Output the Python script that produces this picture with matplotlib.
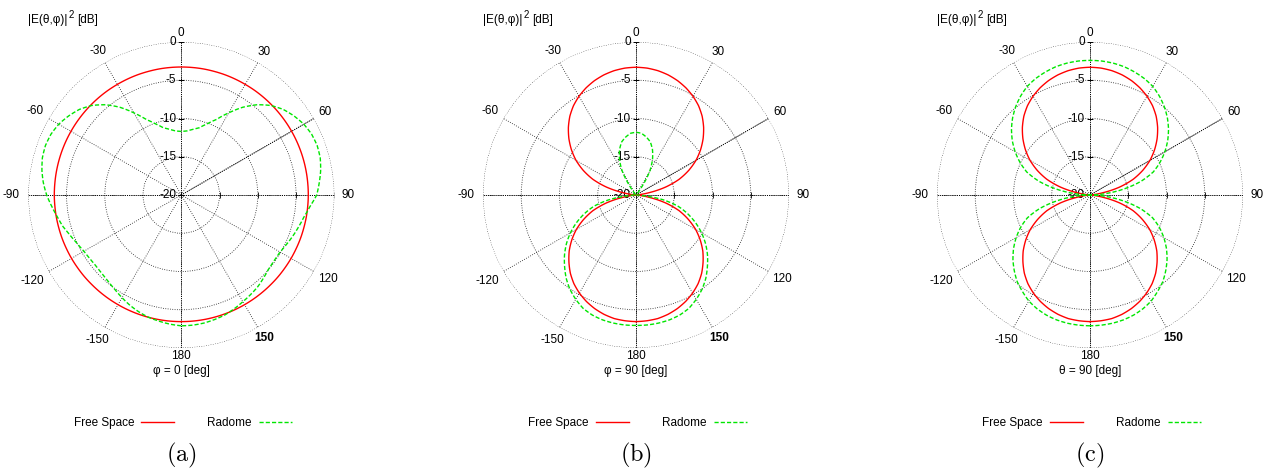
import numpy as np
import matplotlib
matplotlib.use('Agg')
import matplotlib.pyplot as plt
from matplotlib import transforms

plt.rcParams['font.family'] = ['Liberation Sans', 'DejaVu Sans']

# ---------------- data (dB, every 5 deg) ----------------
theta_deg = list(range(-180, 181, 5))

free_space_a = [
    -3.45, -3.45, -3.45, -3.45, -3.45, -3.45, -3.45, -3.45, -3.45, -3.45,
    -3.44, -3.44, -3.43, -3.43, -3.42, -3.42, -3.41, -3.41,
    -3.40, -3.40, -3.39, -3.38, -3.37, -3.36, -3.35, -3.34, -3.33, -3.32,
    -3.31, -3.30, -3.30, -3.29, -3.28, -3.28, -3.27, -3.27,
    -3.27,
    -3.27, -3.27, -3.28, -3.28, -3.29, -3.30, -3.30, -3.31, -3.32, -3.33,
    -3.34, -3.35, -3.36, -3.37, -3.38, -3.39, -3.40, -3.40,
    -3.41, -3.41, -3.42, -3.42, -3.43, -3.43, -3.44, -3.44, -3.45, -3.45,
    -3.45, -3.45, -3.45, -3.45, -3.45, -3.45, -3.45, -3.45]
radome_a = [
    -2.9, -3.05, -3.25, -3.45, -3.75, -4.1, -4.5, -4.9, -5.2, -5.4,
    -5.5, -5.45, -5.3, -5.0, -4.55, -4.0, -3.55, -3.0,
    -2.4, -1.9, -1.5, -1.2, -1.1, -1.2, -1.5, -2.0, -2.6, -3.45,
    -4.6, -6.0, -7.6, -9.1, -10.1, -10.9, -11.3, -11.6,
    -11.7,
    -11.6, -11.3, -10.9, -10.1, -9.1, -7.6, -6.0, -4.6, -3.45, -2.6,
    -2.0, -1.5, -1.2, -1.1, -1.2, -1.5, -1.9, -2.3,
    -3.1, -3.7, -4.1, -4.45, -4.8, -5.1, -5.15, -5.05, -4.75, -4.4,
    -4.15, -3.9, -3.6, -3.32, -3.15, -3.0, -2.92, -2.9]

free_space_b = [
    -3.45, -3.5, -3.6, -3.85, -4.2, -4.65, -5.2, -5.85, -6.65, -7.6,
    -8.6, -9.75, -11.0, -12.45, -14.0, -16.0, -18.3, -20.0,
    -20.0, -20.0, -18.3, -16.0, -14.0, -12.4, -10.95, -9.7, -8.55, -7.5,
    -6.55, -5.75, -5.1, -4.55, -4.1, -3.75, -3.5, -3.35,
    -3.3,
    -3.35, -3.5, -3.75, -4.1, -4.55, -5.1, -5.75, -6.55, -7.5, -8.55,
    -9.7, -10.95, -12.4, -14.0, -16.0, -18.3, -20.0, -20.0,
    -20.0, -18.3, -16.0, -14.0, -12.45, -11.0, -9.75, -8.6, -7.6, -6.65,
    -5.85, -5.2, -4.65, -4.2, -3.85, -3.6, -3.5, -3.45]
radome_b = [
    -2.95, -2.95, -3.0, -3.1, -3.3, -3.65, -4.25, -4.95, -5.8, -6.8,
    -7.8, -8.9, -10.1, -11.4, -12.8, -14.3, -16.4, -19.2,
    -20.0, -20.0, -20.0, -20.0, -20.0, -20.0, -20.0, -20.0, -20.0, -20.0,
    -20.0, -18.6, -16.4, -14.9, -13.7, -12.8, -12.3, -11.9,
    -11.8,
    -11.9, -12.3, -12.8, -13.7, -14.9, -16.4, -18.6, -20.0, -20.0, -20.0,
    -20.0, -20.0, -20.0, -20.0, -20.0, -20.0, -20.0, -20.0,
    -19.2, -16.4, -14.3, -12.8, -11.4, -10.1, -8.9, -7.8, -6.8, -5.8,
    -4.95, -4.25, -3.65, -3.3, -3.1, -3.0, -2.95, -2.95]

free_space_c = [
    -3.45, -3.5, -3.6, -3.85, -4.2, -4.65, -5.2, -5.85, -6.65, -7.6,
    -8.6, -9.75, -11.0, -12.45, -14.0, -16.0, -18.3, -20.0,
    -20.0, -20.0, -18.3, -16.0, -14.0, -12.4, -10.95, -9.7, -8.55, -7.5,
    -6.55, -5.75, -5.1, -4.55, -4.1, -3.75, -3.5, -3.35,
    -3.3,
    -3.35, -3.5, -3.75, -4.1, -4.55, -5.1, -5.75, -6.55, -7.5, -8.55,
    -9.7, -10.95, -12.4, -14.0, -16.0, -18.3, -20.0, -20.0,
    -20.0, -18.3, -16.0, -14.0, -12.45, -11.0, -9.75, -8.6, -7.6, -6.65,
    -5.85, -5.2, -4.65, -4.2, -3.85, -3.6, -3.5, -3.45]
radome_c = [
    -2.9, -2.92, -2.98, -3.1, -3.3, -3.6, -4.0, -4.6, -5.2, -6.0,
    -6.85, -7.8, -8.85, -10.0, -11.3, -13.2, -15.6, -18.0,
    -20.0, -18.0, -15.5, -13.1, -11.2, -9.9, -8.7, -7.6, -6.6, -5.7,
    -4.9, -4.2, -3.6, -3.2, -2.9, -2.65, -2.5, -2.42,
    -2.4,
    -2.42, -2.5, -2.65, -2.9, -3.2, -3.6, -4.2, -4.9, -5.7, -6.6,
    -7.6, -8.7, -9.9, -11.2, -13.1, -15.5, -18.0, -20.0,
    -18.0, -15.6, -13.2, -11.3, -10.0, -8.85, -7.8, -6.85, -6.0, -5.2,
    -4.6, -4.0, -3.6, -3.3, -3.1, -2.98, -2.92, -2.9]

series_names = ['Free Space', 'Radome']
panel_letters = ['(a)', '(b)', '(c)']
cut_labels = ['\u03c6 = 0 [deg]', '\u03c6 = 90 [deg]', '\u03b8 = 90 [deg]']
y_title_parts = ['|E(\u03b8,\u03c6)|', '2', '[dB]']
angle_ticks = [0, 30, 60, 90, 120, 150, 180, 210, 240, 270, 300, 330]
angle_labels = ['0', '30', '60', '90', '120', '150', '180',
                '-150', '-120', '-90', '-60', '-30']
r_ticks = [-20, -15, -10, -5, 0]
r_labels = ['-20', '-15', '-10', '-5', '0']

panels = [(free_space_a, radome_a), (free_space_b, radome_b),
          (free_space_c, radome_c)]

# ---------------- layout ----------------
W, H = 1276, 475
fig = plt.figure(figsize=(W / 100, H / 100), dpi=100)
renderer = fig.canvas.get_renderer()
centers_x = [181.3, 636.0, 1090.0]
cy = 195.0
R = 153.0
label_pad_px = [8.7, 11.6, 13, 14, 16, 12.6, 8, 14.4, 19, 17, 15.7, 13]
FS = 8.5
RMIN, RMAX = -20, 0

grid_kw = dict(color='#1a1a1a', linestyle=(0, (1, 1.8)), linewidth=0.6)
axis_kw = dict(color='black', linestyle=(0, (1, 1.2)), linewidth=0.7)

th = np.deg2rad(theta_deg)

for i, (cx, (fs_vals, rd_vals)) in enumerate(zip(centers_x, panels)):
    ax = fig.add_axes([(cx - R) / W, (H - cy - R) / H, 2 * R / W, 2 * R / H],
                      projection='polar')
    ax.set_theta_zero_location('N')
    ax.set_theta_direction(-1)
    ax.set_ylim(RMIN, RMAX)
    ax.set_thetagrids(angle_ticks, labels=[''] * len(angle_ticks))
    ax.set_rgrids(r_ticks[1:], labels=[''] * (len(r_ticks) - 1))
    ax.tick_params(axis='both', length=0, pad=0)
    ax.grid(True, **grid_kw)
    ax.spines['polar'].set_visible(False)

    # black axis lines
    for a in [0, 90, 180, 270, 60]:
        ax.plot([np.deg2rad(a)] * 2, [RMIN, RMAX], zorder=2, **axis_kw)

    # radial tick marks
    ax.plot([0] * len(r_ticks), r_ticks, linestyle='none', marker='_',
            markersize=5, markeredgewidth=0.6, color='black', zorder=3)
    ax.plot([np.pi / 2] * len(r_ticks), r_ticks, linestyle='none', marker='|',
            markersize=4.5, markeredgewidth=0.6, color='black', zorder=3)

    # radial labels
    off = transforms.offset_copy(ax.transData, fig=fig, x=-5, y=0, units='dots')
    for r, lab in zip(r_ticks, r_labels):
        ax.text(0, r, lab, transform=off, ha='right', va='center', fontsize=FS,
                zorder=4)

    # angle labels
    for a, lab, pad in zip(angle_ticks, angle_labels, label_pad_px):
        ax.text(np.deg2rad(a), RMAX + pad * (RMAX - RMIN) / R, lab,
                ha='center', va='center', fontsize=FS,
                fontweight='bold' if lab == '150' else 'normal')

    l1, = ax.plot(th, fs_vals, color='#ff0000', linewidth=1.0, zorder=5)
    l2, = ax.plot(th, rd_vals, color='#00e600', linewidth=1.0,
                  linestyle=(0, (3, 1.5)), zorder=6)
    # draw each segment as a polar arc / spiral instead of a straight chord
    for ln in (l1, l2):
        ln.get_path()._interpolation_steps = 12

    ax.legend([l1, l2], series_names, loc='center',
              bbox_to_anchor=((cx + 1.5) / W, 1 - 423 / H),
              bbox_transform=fig.transFigure, ncol=2, frameon=False,
              markerfirst=False, handlelength=2.8, handletextpad=0.6,
              columnspacing=2.8, fontsize=FS)

    # y title with a raised "2"
    t1 = fig.text((cx - R) / W, 1 - 23 / H, y_title_parts[0], ha='left',
                  va='baseline', fontsize=FS)
    bb1 = t1.get_window_extent(renderer)
    t2 = fig.text((bb1.x1 + 1) / W, 1 - 17.5 / H, y_title_parts[1], ha='left',
                  va='baseline', fontsize=7)
    bb2 = t2.get_window_extent(renderer)
    fig.text((bb2.x1 + 3) / W, 1 - 23 / H, y_title_parts[2], ha='left',
             va='baseline', fontsize=FS)

    fig.text(cx / W, 1 - 371 / H, cut_labels[i], ha='center', va='center',
             fontsize=FS)
    t = fig.text(cx / W, 1 - 455 / H, r'$\mathrm{' + panel_letters[i] + '}$',
                 ha='center', va='center', fontsize=17.5)
    t.set_math_fontfamily('cm')

fig.savefig('out.png', dpi=100)
